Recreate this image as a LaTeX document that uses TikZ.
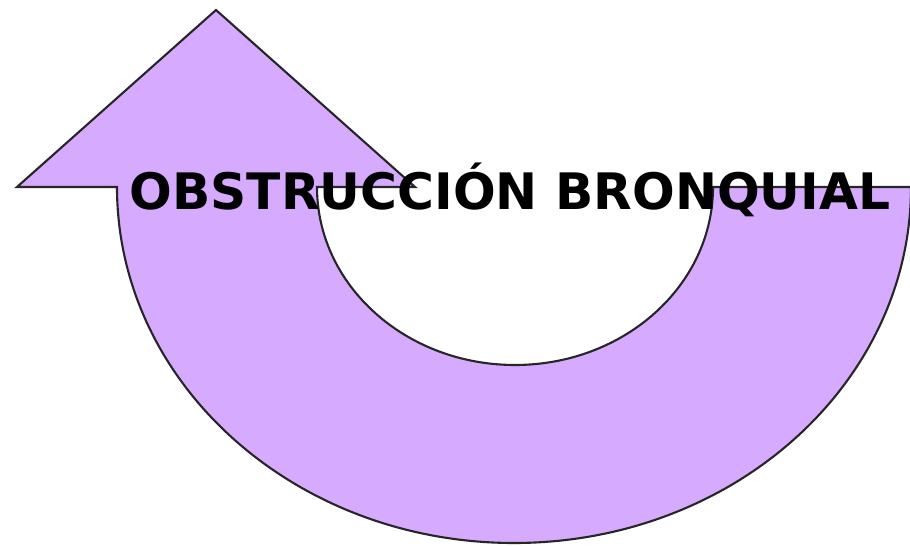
\documentclass[tikz,border=0pt]{standalone}
\usepackage{fontspec}
\newfontfamily\titlefont{DejaVu Sans}
\definecolor{arrowlilac}{RGB}{214,170,255}
\usepackage{tikz}
\usetikzlibrary{calc, positioning}

\tikzset{
	uturn/.style={fill=arrowlilac, draw=black!85, line width=1.2pt, line join=miter},
	label text/.style={font=\titlefont\bfseries\fontsize{28.6}{30}\selectfont, text=black, inner sep=0pt}
}

\begin{document}
\begin{tikzpicture}[x=0.02cm, y=0.02cm]
	
	\useasboundingbox (0,0) rectangle (910,545);
	\clip (0,0) rectangle (910,545);
	
	% ellipse centres of the bend
	\coordinate (outerc) at (514,358);
	\coordinate (innerc) at (515,358);
	
	% the turning arrow
	\draw[uturn] (216,535) -- (17,358) -- (117,358)
		arc[start angle=180, end angle=360, x radius=397, y radius=356]
		-- (713,358)
		arc[start angle=0, end angle=-180, x radius=198, y radius=178]
		-- (415,358) -- cycle;
	
	% title
	\node[label text] (title) at (510,355) {OBSTRUCCIÓN BRONQUIAL};
	
\end{tikzpicture}
\end{document}
